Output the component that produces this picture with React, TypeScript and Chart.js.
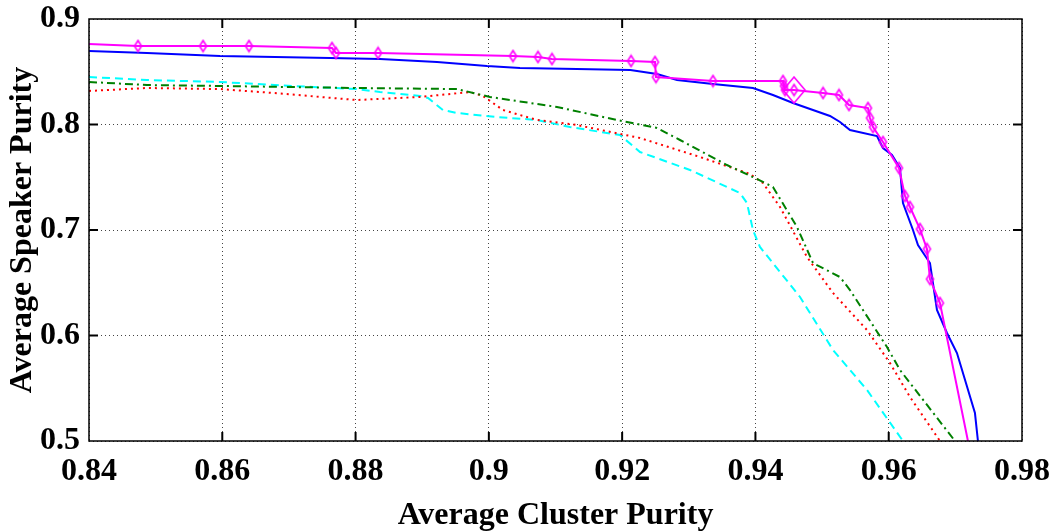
import React, { useEffect, useRef } from "react";
import { Chart, registerables } from "chart.js";

Chart.register(...registerables);

// ---- Axis ticks ----
const xTickValues = [0.84, 0.86, 0.88, 0.9, 0.92, 0.94, 0.96, 0.98];
const xTickLabels = ["0.84", "0.86", "0.88", "0.9", "0.92", "0.94", "0.96", "0.98"];
const yTickValues = [0.5, 0.6, 0.7, 0.8, 0.9];
const yTickLabels = ["0.5", "0.6", "0.7", "0.8", "0.9"];

// ---- Series: magenta with diamond markers ----
const magentaX = [0.84, 0.84735, 0.85711, 0.864, 0.87646, 0.87706, 0.88337, 0.90362, 0.90737, 0.90947, 0.92133, 0.92493, 0.92508, 0.93363, 0.94413, 0.94428, 0.94443, 0.94579, 0.95014, 0.95254, 0.95404, 0.95689, 0.95719, 0.95764, 0.95914, 0.96154, 0.96244, 0.96319, 0.96469, 0.96574, 0.96619, 0.96769, 0.97189];
const magentaY = [0.8763, 0.8744, 0.8744, 0.8744, 0.8725, 0.8678, 0.8678, 0.8649, 0.864, 0.8621, 0.8602, 0.8592, 0.845, 0.8412, 0.8412, 0.8365, 0.8327, 0.8327, 0.8299, 0.828, 0.8185, 0.8156, 0.8062, 0.7976, 0.7834, 0.7588, 0.7322, 0.7218, 0.7009, 0.682, 0.6535, 0.6308, 0.5];
// operating point (large diamond)
const opX = [0.94579];
const opY = [0.8327];

// ---- Series: blue solid ----
const blueX = [0.84, 0.8487, 0.85966, 0.87616, 0.88366, 0.89222, 0.89972, 0.90467, 0.91322, 0.92123, 0.92523, 0.92823, 0.93363, 0.93963, 0.94263, 0.94564, 0.95119, 0.95269, 0.95419, 0.95824, 0.95914, 0.96049, 0.96169, 0.96214, 0.96364, 0.96439, 0.96619, 0.96724, 0.96874, 0.97024, 0.97294, 0.97339];
const blueY = [0.8697, 0.8678, 0.8649, 0.863, 0.8621, 0.8592, 0.8554, 0.8536, 0.8526, 0.8517, 0.8479, 0.8422, 0.8384, 0.8346, 0.828, 0.8204, 0.8081, 0.8024, 0.7948, 0.7891, 0.7777, 0.7711, 0.7588, 0.7256, 0.7, 0.6858, 0.6687, 0.6242, 0.6024, 0.5834, 0.5265, 0.5];

// ---- Series: green dash-dot ----
const greenX = [0.84, 0.8487, 0.85966, 0.88021, 0.89522, 0.90017, 0.91022, 0.91922, 0.92523, 0.92868, 0.93573, 0.93963, 0.94263, 0.94624, 0.94864, 0.95269, 0.95419, 0.95974, 0.96169, 0.96994];
const greenY = [0.8403, 0.8374, 0.8365, 0.8346, 0.8336, 0.8261, 0.8166, 0.8043, 0.7967, 0.7853, 0.7616, 0.7502, 0.7408, 0.7028, 0.6687, 0.6554, 0.6431, 0.5891, 0.5673, 0.5];

// ---- Series: red dotted ----
const redX = [0.84, 0.8487, 0.85966, 0.86761, 0.88021, 0.88967, 0.89717, 0.89912, 0.90212, 0.90722, 0.91322, 0.92268, 0.93168, 0.93918, 0.94113, 0.94369, 0.94774, 0.95164, 0.95674, 0.96019, 0.96319, 0.96769];
const redY = [0.8318, 0.8346, 0.8336, 0.8299, 0.8232, 0.8261, 0.8308, 0.827, 0.8137, 0.8043, 0.7995, 0.7872, 0.7692, 0.7531, 0.7445, 0.7218, 0.6744, 0.6403, 0.6052, 0.5739, 0.5417, 0.5];

// ---- Series: cyan dashed ----
const cyanX = [0.84, 0.8487, 0.85966, 0.87361, 0.88021, 0.88366, 0.88967, 0.89087, 0.89312, 0.89522, 0.90122, 0.90722, 0.91217, 0.91968, 0.92268, 0.93018, 0.93768, 0.93873, 0.93963, 0.94068, 0.94669, 0.95164, 0.95674, 0.96214];
const cyanY = [0.845, 0.8422, 0.8403, 0.8355, 0.8336, 0.8308, 0.827, 0.8251, 0.8137, 0.8109, 0.8071, 0.8043, 0.7976, 0.79, 0.7739, 0.7569, 0.7351, 0.7256, 0.7, 0.6839, 0.6365, 0.5863, 0.5484, 0.5];

const xTitle = "Average Cluster Purity";
const yTitle = "Average Speaker Purity";

const FONT = "'Liberation Serif', 'Times New Roman', serif";

function pts(xs: number[], ys: number[]) {
  return xs.map((x, i) => ({ x, y: ys[i] }));
}

function diamond(w: number, h: number, color: string, lw: number) {
  const c = document.createElement("canvas");
  c.width = w + 4;
  c.height = h + 4;
  const g = c.getContext("2d")!;
  g.strokeStyle = color;
  g.lineWidth = lw;
  const cx = c.width / 2;
  const cy = c.height / 2;
  g.beginPath();
  g.moveTo(cx, cy - h / 2);
  g.lineTo(cx + w / 2, cy);
  g.lineTo(cx, cy + h / 2);
  g.lineTo(cx - w / 2, cy);
  g.closePath();
  g.stroke();
  return c;
}

const boxPlugin = {
  id: "matlabBox",
  afterDatasetsDraw(chart: any) {
    const { ctx, chartArea: a, scales } = chart;
    ctx.save();
    ctx.strokeStyle = "#000";
    ctx.lineWidth = 1.5;
    ctx.strokeRect(a.left, a.top, a.right - a.left, a.bottom - a.top);
    ctx.lineWidth = 2;
    const L = 9;
    const seg = (x1: number, y1: number, x2: number, y2: number) => {
      ctx.beginPath();
      ctx.moveTo(x1, y1);
      ctx.lineTo(x2, y2);
      ctx.stroke();
    };
    xTickValues.forEach((v) => {
      const p = scales.x.getPixelForValue(v);
      if (p <= a.left + 1 || p >= a.right - 1) return;
      seg(p, a.bottom, p, a.bottom - L);
      seg(p, a.top, p, a.top + L);
    });
    yTickValues.forEach((v) => {
      const p = scales.y.getPixelForValue(v);
      if (p <= a.top + 1 || p >= a.bottom - 1) return;
      seg(a.left, p, a.left + L, p);
      seg(a.right, p, a.right - L, p);
    });
    ctx.restore();
  },
};

export default function App() {
  const ref = useRef<HTMLCanvasElement>(null);
  useEffect(() => {
    if (!ref.current) return;
    const small = diamond(7, 11, "#ff00ff", 1.6);
    const big = diamond(22, 26, "#ff00ff", 1.6);
    const magR = magentaX.map((_, i) => (i === 0 || i === magentaX.length - 1 ? 0 : 1));
    const chart = new Chart(ref.current, {
      type: "scatter",
      data: {
        datasets: [
          {
            data: pts(magentaX, magentaY),
            showLine: true,
            borderColor: "#ff00ff",
            backgroundColor: "#ff00ff",
            borderWidth: 2,
            pointStyle: small as any,
            pointRadius: magR as any,
          },
          {
            data: pts(opX, opY),
            showLine: false,
            borderColor: "#ff00ff",
            pointStyle: big as any,
            pointRadius: 1,
          },
          {
            data: pts(blueX, blueY),
            showLine: true,
            borderColor: "#0000ff",
            borderWidth: 2,
            pointRadius: 0,
          },
          {
            data: pts(greenX, greenY),
            showLine: true,
            borderColor: "#008000",
            borderWidth: 2,
            borderDash: [8, 4, 2, 4],
            pointRadius: 0,
          },
          {
            data: pts(redX, redY),
            showLine: true,
            borderColor: "#ff0000",
            borderWidth: 2,
            borderDash: [2, 4],
            pointRadius: 0,
          },
          {
            data: pts(cyanX, cyanY),
            showLine: true,
            borderColor: "#00ffff",
            borderWidth: 2,
            borderDash: [8, 5],
            pointRadius: 0,
          },
        ],
      },
      options: {
        animation: false,
        responsive: false,
        events: [],
        layout: { padding: { top: 19, right: 30, left: 0, bottom: 0 } },
        plugins: { legend: { display: false }, tooltip: { enabled: false } },
        scales: {
          x: {
            type: "linear",
            min: 0.84,
            max: 0.98,
            afterBuildTicks: (s: any) => {
              s.ticks = xTickValues.map((v) => ({ value: v }));
            },
            afterFit: (s: any) => {
              s.height = 91;
              s.paddingLeft = 0;
              s.paddingRight = 0;
            },
            ticks: {
              callback: (v: any) => {
                const i = xTickValues.findIndex((t) => Math.abs(t - v) < 1e-9);
                return i >= 0 ? xTickLabels[i] : "";
              },
              font: { family: FONT, size: 32, weight: "bold" },
              color: "#000",
              padding: 12,
              maxRotation: 0,
              autoSkip: false,
            },
            grid: { color: "#444", lineWidth: 1, drawTicks: false },
            border: { display: false, dash: [1, 3] },
            title: {
              display: true,
              text: xTitle,
              font: { family: FONT, size: 32, weight: "bold" },
              color: "#000",
              padding: { top: 0, bottom: -3 },
            },
          },
          y: {
            type: "linear",
            min: 0.5,
            max: 0.9,
            afterBuildTicks: (s: any) => {
              s.ticks = yTickValues.map((v) => ({ value: v }));
            },
            afterFit: (s: any) => {
              s.width = 89;
              s.paddingTop = 0;
              s.paddingBottom = 0;
            },
            ticks: {
              callback: (v: any) => {
                const i = yTickValues.findIndex((t) => Math.abs(t - v) < 1e-9);
                return i >= 0 ? yTickLabels[i] : "";
              },
              font: { family: FONT, size: 32, weight: "bold" },
              color: "#000",
              padding: 9,
              autoSkip: false,
            },
            grid: { color: "#444", lineWidth: 1, drawTicks: false },
            border: { display: false, dash: [1, 3] },
            title: {
              display: true,
              text: yTitle,
              font: { family: FONT, size: 32, weight: "bold" },
              color: "#000",
              padding: { top: 4, bottom: 0 },
            },
          },
        },
      },
      plugins: [boxPlugin],
    });
    return () => chart.destroy();
  }, []);

  return (
    <div style={{ position: "fixed", left: 0, top: 0, width: 1052, height: 532, background: "#fff" }}>
      <canvas ref={ref} width={1052} height={532} style={{ width: 1052, height: 532, display: "block" }} />
    </div>
  );
}
